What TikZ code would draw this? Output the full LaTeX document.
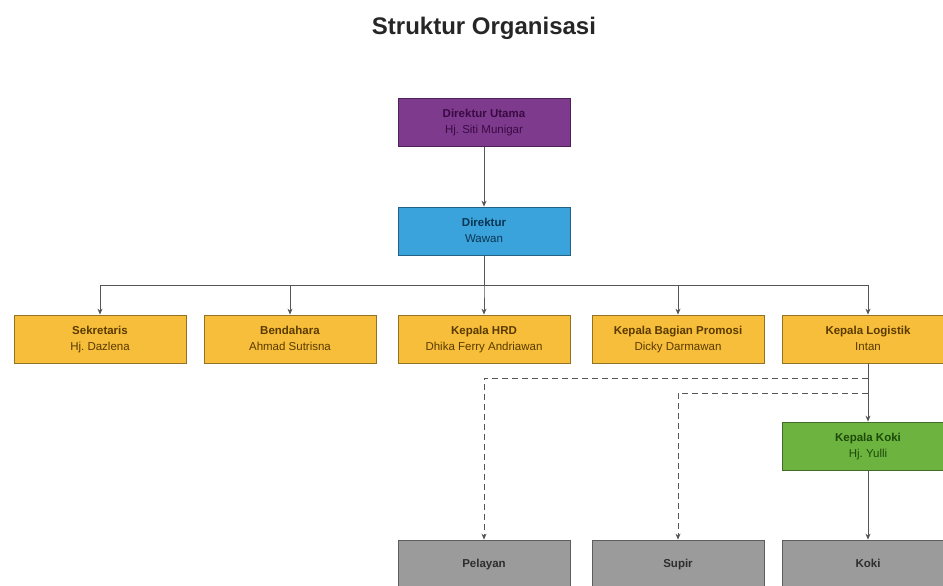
\documentclass[tikz,border=0pt]{standalone}
\usepackage{fontspec}
\setmainfont{Liberation Sans}
\usetikzlibrary{arrows.meta}
\frenchspacing
\definecolor{pfill}{HTML}{7E3A8C}\definecolor{ptext}{HTML}{3A0A45}
\definecolor{bfill}{HTML}{3AA3DC}\definecolor{btext}{HTML}{0B3552}
\definecolor{yfill}{HTML}{F6BE3A}\definecolor{ytext}{HTML}{5A3A00}
\definecolor{gfill}{HTML}{6DB33F}\definecolor{gtext}{HTML}{1C4A08}
\definecolor{afill}{HTML}{9B9B9B}\definecolor{atext}{HTML}{2E2E2E}
\definecolor{linec}{HTML}{555555}
\newcommand{\twoline}[2]{\textbf{#1}\strut\\#2\strut}
\tikzset{
  box/.style={draw=#1!60!black, line width=0.8pt, minimum width=172pt, minimum height=48pt, align=center, font=\fontsize{11.5}{16}\selectfont, inner sep=0pt},
  purplebox/.style={box=pfill, fill=pfill, text=ptext},
  bluebox/.style={box=bfill, fill=bfill, text=btext},
  yellowbox/.style={box=yfill, fill=yfill, text=ytext},
  greenbox/.style={box=gfill, fill=gfill, text=gtext},
  greybox/.style={box=afill, fill=afill, text=atext},
  arr/.style={draw=linec, line width=0.8pt, -{Stealth[length=6pt,width=5pt]}},
  darr/.style={arr, dash pattern=on 6pt off 4pt},
}
\begin{document}
\begin{tikzpicture}[x=1pt,y=-1pt]
\useasboundingbox (0,0) rectangle (943,586);
\clip (0,0) rectangle (943,586);
\node[font=\bfseries\fontsize{24}{28}\selectfont, text=black!85] (title) at (484,28) {Struktur Organisasi};
\node[purplebox] (du) at (484,122.5) {\twoline{Direktur Utama}{Hj. Siti Munigar}};
\node[bluebox] (dir) at (484,231) {\twoline{Direktur}{Wawan}};
\node[yellowbox] (sek) at (100,339) {\twoline{Sekretaris}{Hj. Dazlena}};
\node[yellowbox] (ben) at (290,339) {\twoline{Bendahara}{Ahmad Sutrisna}};
\node[yellowbox] (hrd) at (484,339) {\twoline{Kepala HRD}{Dhika Ferry Andriawan}};
\node[yellowbox] (pro) at (678,339) {\twoline{Kepala Bagian Promosi}{Dicky Darmawan}};
\node[yellowbox] (log) at (868,339) {\twoline{Kepala Logistik}{Intan}};
\node[greenbox] (kk) at (868,446) {\twoline{Kepala Koki}{Hj. Yulli}};
\node[greybox] (pel) at (484,564) {\textbf{Pelayan}\strut};
\node[greybox] (sup) at (678,564) {\textbf{Supir}\strut};
\node[greybox] (kok) at (868,564) {\textbf{Koki}\strut};
\coordinate (bus) at (484,285);
\coordinate (d1) at (868,378);
\coordinate (d2) at (868,393);
\draw[arr] (du) -- (dir);
\foreach \n in {sek,ben,hrd,pro,log}{
  \draw[arr] (dir.south) -- (bus) -| (\n.north);
}
\draw[arr] (log) -- (kk);
\draw[arr] (kk) -- (kok);
\draw[darr] (d1) -| (pel.north);
\draw[darr] (d2) -| (sup.north);
\end{tikzpicture}
\end{document}
